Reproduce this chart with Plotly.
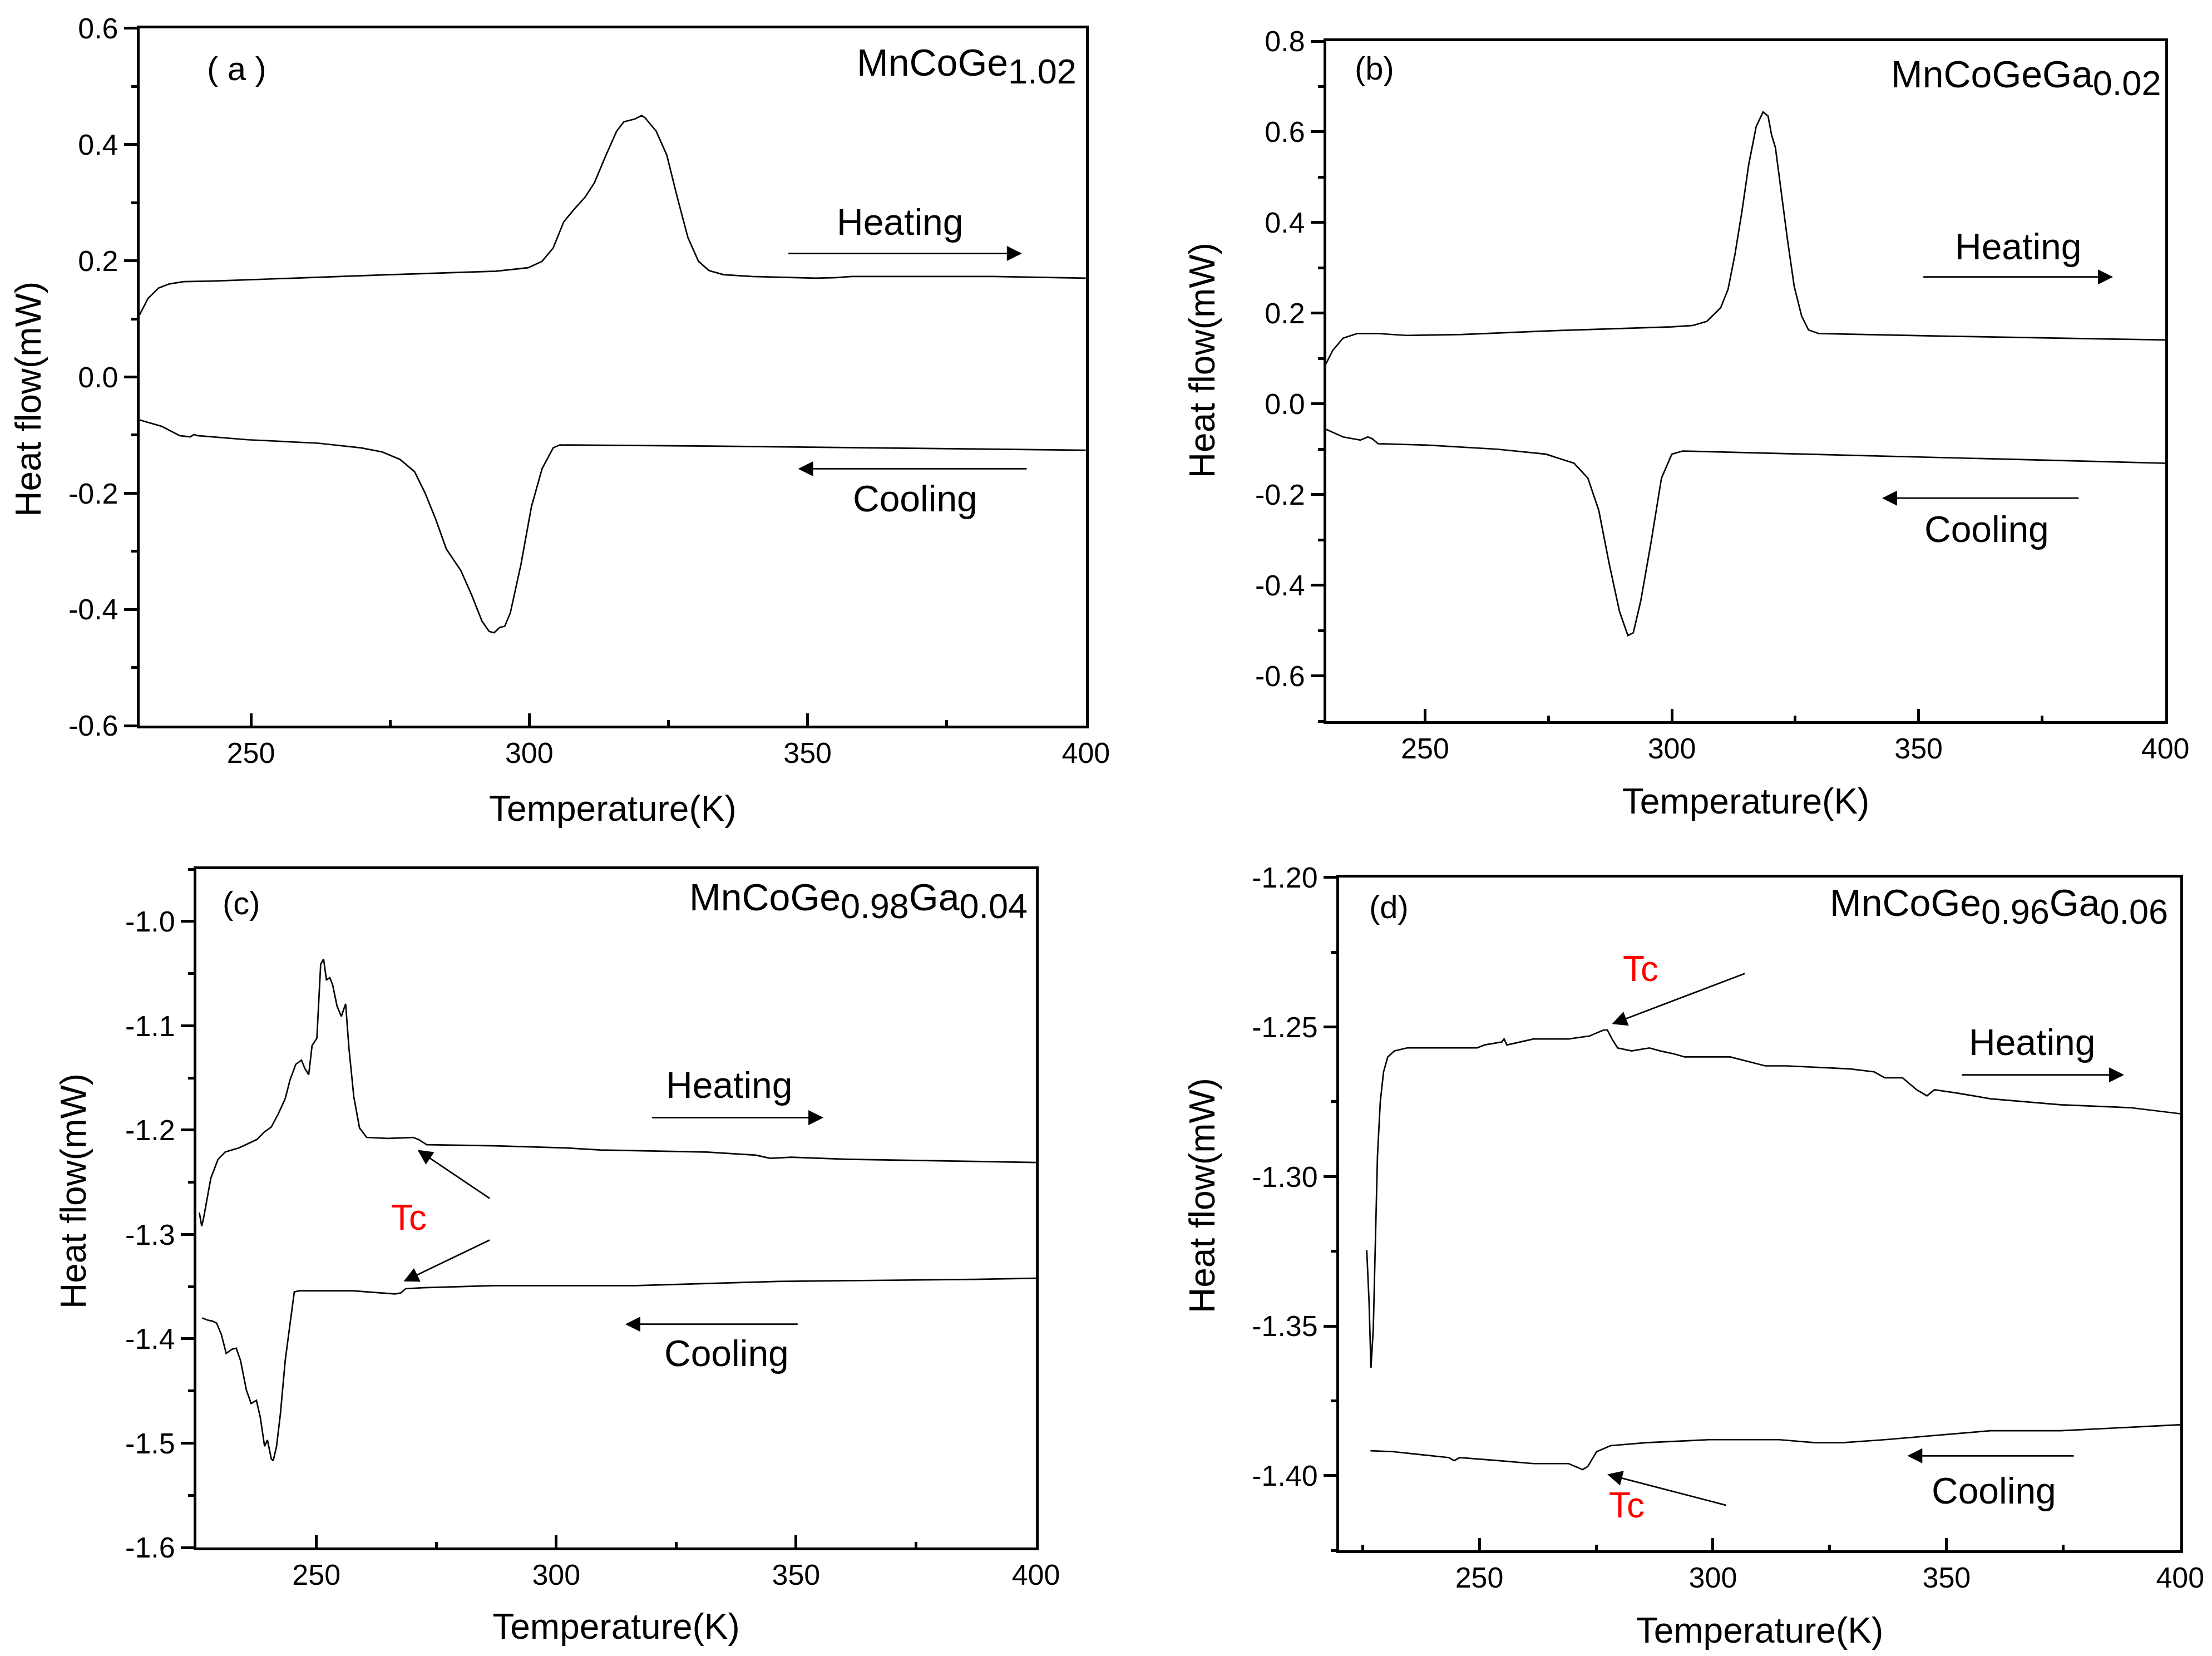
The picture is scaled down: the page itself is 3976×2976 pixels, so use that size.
import plotly.graph_objects as go

# ---------------- data ----------------
# Panel (a) MnCoGe1.02
a_heat_T = [230, 231.5, 233.4, 235.3, 237.9, 243, 274.9, 294, 299.8, 302.3, 304.3, 306.2, 308.1, 310, 311.7,
            313.8, 315.7, 317, 319, 320.2, 320.8, 322.8, 324.7, 326.6, 328.5, 330.4, 332.3, 334.9, 340,
            351.5, 355.3, 357.9, 383.4, 400]
a_heat_Q = [0.107, 0.135, 0.153, 0.160, 0.164, 0.165, 0.176, 0.182, 0.188, 0.199, 0.222, 0.267, 0.289, 0.309,
            0.334, 0.382, 0.423, 0.439, 0.444, 0.450, 0.446, 0.423, 0.382, 0.309, 0.240, 0.199, 0.183, 0.176,
            0.173, 0.170, 0.171, 0.173, 0.173, 0.170]
a_cool_T = [230, 234.0, 237.2, 239.1, 239.8, 240.4, 249.4, 262.1, 269.8, 273.6, 276.8, 279.4, 281.3, 283.2,
            285.1, 287.7, 289.6, 291.5, 292.8, 293.7, 294.7, 295.6, 296.6, 298.5, 300.4, 302.3, 304.3, 305.5,
            332.3, 400]
a_cool_Q = [-0.074, -0.085, -0.101, -0.103, -0.099, -0.101, -0.108, -0.114, -0.122, -0.129, -0.142, -0.163,
            -0.200, -0.245, -0.296, -0.333, -0.374, -0.420, -0.438, -0.440, -0.431, -0.429, -0.406, -0.323,
            -0.223, -0.158, -0.122, -0.117, -0.119, -0.126]

# Panel (b) MnCoGeGa0.02
b_heat_T = [229.9, 231.3, 233.4, 236.2, 240.5, 246.2, 257.5, 277.4, 300, 304.3, 307.1, 309.9, 311.4, 312.8,
            314.2, 315.6, 317.1, 318.5, 319.5, 320.2, 321.0, 322.0, 323.4, 324.8, 326.3, 327.7, 329.8, 356.8, 400]
b_heat_Q = [0.088, 0.118, 0.145, 0.155, 0.155, 0.151, 0.153, 0.162, 0.170, 0.173, 0.182, 0.212, 0.253, 0.330,
            0.424, 0.529, 0.612, 0.644, 0.635, 0.594, 0.565, 0.482, 0.365, 0.259, 0.194, 0.163, 0.155, 0.149,
            0.141]
b_cool_T = [229.9, 233.4, 236.9, 238.4, 239.3, 240.5, 250.4, 264.6, 274.5, 280.2, 283.0, 285.2, 287.3, 289.4,
            291.1, 292.2, 293.7, 295.8, 297.9, 300, 302.2, 328.4, 400]
b_cool_Q = [-0.056, -0.073, -0.080, -0.073, -0.077, -0.088, -0.091, -0.100, -0.111, -0.131, -0.164, -0.235,
            -0.352, -0.458, -0.511, -0.505, -0.435, -0.305, -0.164, -0.111, -0.104, -0.111, -0.131]

# Panel (c) MnCoGe0.98Ga0.04
c_heat_T = [225.6, 226.1, 226.5, 227.3, 228.0, 229.5, 231.0, 233.9, 236.1, 237.6, 239.1, 240.6, 242.0, 243.5,
            244.5, 245.7, 246.9, 247.6, 248.4, 249.1, 250.1, 250.9, 251.5, 252.1, 252.8, 253.4, 254.3, 255.2,
            256.1, 256.8, 257.8, 259.0, 260.5, 264.9, 270.1, 271.3, 273.0, 287.1, 301.8, 309.2, 331.3, 341.6,
            344.6, 349.0, 360.8, 400]
c_heat_Q = [-1.279, -1.292, -1.284, -1.264, -1.246, -1.228, -1.221, -1.217, -1.212, -1.209, -1.202, -1.197,
            -1.185, -1.170, -1.152, -1.137, -1.133, -1.141, -1.147, -1.119, -1.112, -1.041, -1.036, -1.056,
            -1.054, -1.061, -1.081, -1.091, -1.079, -1.122, -1.168, -1.198, -1.207, -1.208, -1.207, -1.209,
            -1.214, -1.215, -1.217, -1.219, -1.221, -1.224, -1.227, -1.226, -1.228, -1.231]
c_cool_T = [226.2, 227.3, 228.3, 229.2, 230.2, 231.2, 232.4, 233.3, 234.2, 235.4, 236.4, 237.5, 238.3, 239.2,
            239.8, 240.6, 241.0, 241.7, 242.5, 243.5, 244.5, 245.4, 246.5, 257.5, 266.4, 267.6, 268.6, 272.3,
            287.1, 316.6, 331.3, 346.1, 387.4, 400]
c_cool_Q = [-1.380, -1.382, -1.383, -1.385, -1.396, -1.414, -1.410, -1.409, -1.421, -1.449, -1.462, -1.459,
            -1.475, -1.503, -1.497, -1.515, -1.517, -1.503, -1.472, -1.421, -1.386, -1.355, -1.354, -1.354,
            -1.357, -1.356, -1.352, -1.351, -1.349, -1.349, -1.347, -1.345, -1.343, -1.342]

# Panel (d) MnCoGe0.96Ga0.06
d_heat_T = [225.9, 226.4, 226.8, 227.3, 227.7, 228.2, 228.8, 229.5, 230.4, 231.8, 234.5, 243.5, 249.5, 251.1,
            254.8, 255.3, 255.9, 261.6, 269.1, 273.6, 276.6, 277.4, 278.4, 279.6, 282.6, 286.4, 288.7, 291.7,
            293.9, 303.7, 311.2, 315.7, 329.3, 334.5, 336.8, 340.6, 343.6, 345.8, 347.4, 351.9, 359.4, 374.4,
            389.5, 400]
d_heat_Q = [-1.3246, -1.342, -1.364, -1.351, -1.325, -1.293, -1.275, -1.265, -1.260, -1.258, -1.257, -1.257,
            -1.257, -1.256, -1.255, -1.254, -1.256, -1.254, -1.254, -1.253, -1.251, -1.251, -1.254, -1.257,
            -1.258, -1.257, -1.258, -1.259, -1.260, -1.260, -1.263, -1.263, -1.264, -1.265, -1.267, -1.267,
            -1.271, -1.273, -1.271, -1.272, -1.274, -1.276, -1.277, -1.279]
d_cool_T = [226.7, 231.5, 237.5, 243.5, 244.6, 245.8, 254.1, 261.6, 269.1, 272.1, 273.2, 275.1, 278.1, 285.7,
            299.2, 314.2, 321.8, 327.8, 336.8, 351.9, 359.4, 374.4, 388, 400]
d_cool_Q = [-1.3917, -1.392, -1.393, -1.394, -1.395, -1.394, -1.395, -1.396, -1.396, -1.398, -1.397, -1.392,
            -1.390, -1.389, -1.388, -1.388, -1.389, -1.389, -1.388, -1.386, -1.385, -1.385, -1.384, -1.383]

x_tickvals = [250, 300, 350, 400]
x_ticktext = ["250", "300", "350", "400"]
a_tickvals = [-0.6, -0.4, -0.2, 0.0, 0.2, 0.4, 0.6]
a_ticktext = ["-0.6", "-0.4", "-0.2", "0.0", "0.2", "0.4", "0.6"]
b_tickvals = [-0.6, -0.4, -0.2, 0.0, 0.2, 0.4, 0.6, 0.8]
b_ticktext = ["-0.6", "-0.4", "-0.2", "0.0", "0.2", "0.4", "0.6", "0.8"]
c_tickvals = [-1.6, -1.5, -1.4, -1.3, -1.2, -1.1, -1.0]
c_ticktext = ["-1.6", "-1.5", "-1.4", "-1.3", "-1.2", "-1.1", "-1.0"]
d_tickvals = [-1.40, -1.35, -1.30, -1.25, -1.20]
d_ticktext = ["-1.40", "-1.35", "-1.30", "-1.25", "-1.20"]

# ---------------- figure ----------------
FONT = "Liberation Sans, Arial, sans-serif"
LW = 2.7

fig = go.Figure()
panels = [
    ("x", "y", a_heat_T, a_heat_Q, a_cool_T, a_cool_Q),
    ("x2", "y2", b_heat_T, b_heat_Q, b_cool_T, b_cool_Q),
    ("x3", "y3", c_heat_T, c_heat_Q, c_cool_T, c_cool_Q),
    ("x4", "y4", d_heat_T, d_heat_Q, d_cool_T, d_cool_Q),
]
for xa, ya, ht, hq, ct, cq in panels:
    fig.add_trace(go.Scatter(x=ht, y=hq, mode="lines", line=dict(color="black", width=LW),
                             xaxis=xa, yaxis=ya, showlegend=False, name="Heating"))
    fig.add_trace(go.Scatter(x=ct, y=cq, mode="lines", line=dict(color="black", width=LW),
                             xaxis=xa, yaxis=ya, showlegend=False, name="Cooling"))


def xaxis(domain, anchor, rng, standoff):
    return dict(domain=domain, anchor=anchor, range=rng, showline=True, linewidth=5, linecolor="black",
                mirror=True, ticks="inside", ticklen=22, tickwidth=5, tickcolor="black",
                tickmode="array", tickvals=x_tickvals, ticktext=x_ticktext,
                tickfont=dict(family=FONT, size=52, color="black"),
                minor=dict(tickmode="linear", tick0=225, dtick=50, ticks="inside", ticklen=10,
                           tickwidth=5, tickcolor="black"),
                showgrid=False, zeroline=False, automargin=False,
                title=dict(text="Temperature(K)", font=dict(family=FONT, size=64, color="black"),
                           standoff=standoff))


def yaxis(domain, anchor, rng, tv, tt, minor_dtick, minor_tick0):
    return dict(domain=domain, anchor=anchor, range=rng, showline=True, linewidth=5, linecolor="black",
                mirror=True, ticks="outside", ticklen=23, tickwidth=5, tickcolor="black",
                tickmode="array", tickvals=tv, ticktext=tt,
                tickfont=dict(family=FONT, size=52, color="black"),
                minor=dict(tickmode="linear", tick0=minor_tick0, dtick=minor_dtick, ticks="outside",
                           ticklen=10, tickwidth=5, tickcolor="black"),
                showgrid=False, zeroline=False, automargin=False)


fig.update_layout(
    width=3976, height=2976, paper_bgcolor="white", plot_bgcolor="white",
    margin=dict(l=0, r=0, t=0, b=0, autoexpand=False),
    xaxis=xaxis([0.0611, 0.4889], "y", [230, 400], 50),
    yaxis=yaxis([0.5645, 0.9856], "x", [-0.6, 0.6], a_tickvals, a_ticktext, 0.2, 0.1),
    xaxis2=xaxis([0.5976, 0.9769], "y2", [230, 400], 45),
    yaxis2=yaxis([0.5672, 0.9778], "x2", [-0.7, 0.8], b_tickvals, b_ticktext, 0.2, 0.1),
    xaxis3=xaxis([0.0868, 0.4663], "y3", [225, 400], 43),
    yaxis3=yaxis([0.0682, 0.4778], "x3", [-1.6, -0.95], c_tickvals, c_ticktext, 0.1, -1.05),
    xaxis4=xaxis([0.6034, 0.9836], "y4", [220, 400], 45),
    yaxis4=yaxis([0.0665, 0.4728], "x4", [-1.425, -1.20], d_tickvals, d_ticktext, 0.05, -1.225),
)

ann = []


def label(x, y, xr, yr, text, size=66, color="black", xanchor="center", font=FONT):
    ann.append(dict(x=x, y=y, xref=xr, yref=yr, text=text, showarrow=False, xanchor=xanchor,
                    yanchor="middle", font=dict(family=font, size=size, color=color)))


def ytitle(x, y):
    ann.append(dict(x=x, y=y, xref="paper", yref="paper", text="Heat flow(mW)", showarrow=False,
                    textangle=-90, xanchor="center", yanchor="middle",
                    font=dict(family=FONT, size=64, color="black")))


def arrow(x0, y0, x1, y1, xr, yr):
    ann.append(dict(x=x1, y=y1, ax=x0, ay=y0, xref=xr, yref=yr, axref=xr, ayref=yr, text="",
                    showarrow=True, arrowhead=2, arrowsize=2.0, arrowwidth=2.7, arrowcolor="black"))


def formula(base, parts):
    s = base
    for sub, nxt in parts:
        s += "<sub><span style='font-size:63px'>" + sub + "</span></sub>" + nxt
    return s


# y-axis titles
ytitle(0.0108, 0.7618)
ytitle(0.5415, 0.7849)
ytitle(0.0312, 0.2833)
ytitle(0.5415, 0.2806)

# (a)
label(247.4, 0.530, "x", "y", "( a )", size=60)
label(398.5, 0.535, "x", "y", formula("MnCoGe", [("1.02", "")]), size=68, xanchor="right")
label(366.6, 0.267, "x", "y", "Heating")
arrow(346.4, 0.2125, 388.5, 0.2125, "x", "y")
label(369.3, -0.209, "x", "y", "Cooling")
arrow(389.5, -0.158, 348.3, -0.158, "x", "y")
# (b)
label(239.8, 0.741, "x2", "y2", "(b)", size=58)
label(399.3, 0.72, "x2", "y2", formula("MnCoGeGa", [("0.02", "")]), size=68, xanchor="right")
label(370.2, 0.347, "x2", "y2", "Heating")
arrow(350.8, 0.280, 389.4, 0.280, "x2", "y2")
label(363.8, -0.276, "x2", "y2", "Cooling")
arrow(382.6, -0.208, 342.6, -0.208, "x2", "y2")
# (c)
label(234.4, -0.982, "x3", "y3", "(c)", size=58)
label(398.5, -0.980, "x3", "y3", formula("MnCoGe", [("0.98", "Ga"), ("0.04", "")]), size=68,
      xanchor="right")
label(336.1, -1.157, "x3", "y3", "Heating")
arrow(319.8, -1.188, 355.7, -1.188, "x3", "y3")
label(335.5, -1.414, "x3", "y3", "Cooling")
arrow(350.5, -1.386, 314.4, -1.386, "x3", "y3")
label(269.3, -1.284, "x3", "y3", "Tc", size=64, color="red")
arrow(286.3, -1.266, 271.1, -1.219, "x3", "y3")
arrow(286.3, -1.305, 268.2, -1.345, "x3", "y3")
# (d)
label(230.7, -1.2097, "x4", "y4", "(d)", size=58)
label(397.7, -1.2096, "x4", "y4", formula("MnCoGe", [("0.96", "Ga"), ("0.06", "")]), size=68,
      xanchor="right")
label(368.4, -1.255, "x4", "y4", "Heating")
arrow(353.1, -1.266, 388.0, -1.266, "x4", "y4")
label(360.1, -1.405, "x4", "y4", "Cooling")
arrow(377.4, -1.3934, 341.6, -1.3934, "x4", "y4")
label(284.5, -1.2306, "x4", "y4", "Tc", size=64, color="red")
arrow(307.0, -1.232, 278.4, -1.249, "x4", "y4")
label(281.5, -1.410, "x4", "y4", "Tc", size=64, color="red")
arrow(303.0, -1.410, 277.4, -1.3996, "x4", "y4")

fig.update_layout(annotations=ann)
fig.write_html("out.html")
